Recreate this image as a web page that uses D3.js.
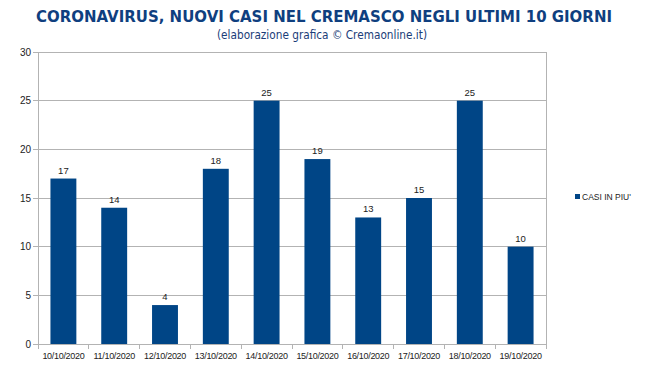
<!DOCTYPE html>
<html><head><meta charset="utf-8">
<script src="https://cdn.jsdelivr.net/npm/d3@7"></script>
<style>body{margin:0;background:#fff}svg{display:block}</style>
</head><body>
<script>
const categories = ["10/10/2020","11/10/2020","12/10/2020","13/10/2020","14/10/2020","15/10/2020","16/10/2020","17/10/2020","18/10/2020","19/10/2020"];
const values = [17,14,4,18,25,19,13,15,25,10];
const yTicks = [0,5,10,15,20,25,30];
const seriesName = "CASI IN PIU'";
const title = "CORONAVIRUS, NUOVI CASI NEL CREMASCO NEGLI ULTIMI 10 GIORNI";
const subtitle = "(elaborazione grafica \u00A9 Cremaonline.it)";

(function(){
const W = 650, H = 370;
const svg = d3.select("body").append("svg").attr("width", W).attr("height", H);
const pl = 38, pr = 546, pt = 52, pb = 344;
const x = d3.scaleBand().domain(categories).range([pl, pr]).paddingInner(0.49).paddingOuter(0.245);
const xb = d3.scaleBand().domain(categories).range([pl, pr]);
const y = d3.scaleLinear().domain([0, 30]).range([pb, pt]);

svg.append("text").attr("x", 36).attr("y", 22)
  .attr("font-family", "DejaVu Sans, sans-serif").attr("font-weight", "bold")
  .attr("font-size", 15.5).attr("textLength", 576).attr("lengthAdjust", "spacingAndGlyphs")
  .attr("fill", "#0f3f7f").text(title);
svg.append("text").attr("x", 217).attr("y", 39)
  .attr("font-family", "DejaVu Sans, sans-serif")
  .attr("font-size", 11.5).attr("textLength", 210).attr("lengthAdjust", "spacingAndGlyphs")
  .attr("fill", "#1a3d78").text(subtitle);

svg.append("g").selectAll("line").data(yTicks).join("line")
  .attr("x1", pl - 5).attr("x2", pr).attr("y1", d => y(d)).attr("y2", d => y(d))
  .attr("stroke", "#b3b3b3").attr("stroke-width", 1).attr("shape-rendering", "crispEdges");
svg.append("line").attr("x1", pr).attr("x2", pr).attr("y1", pt).attr("y2", pb)
  .attr("stroke", "#b3b3b3").attr("shape-rendering", "crispEdges");
svg.append("line").attr("x1", pl).attr("x2", pl).attr("y1", pt).attr("y2", pb + 5)
  .attr("stroke", "#b3b3b3").attr("shape-rendering", "crispEdges");
svg.append("g").selectAll("line").data(categories.slice(1)).join("line")
  .attr("x1", d => xb(d)).attr("x2", d => xb(d)).attr("y1", pb).attr("y2", pb + 5)
  .attr("stroke", "#b3b3b3").attr("shape-rendering", "crispEdges");
svg.append("line").attr("x1", pr).attr("x2", pr).attr("y1", pb).attr("y2", pb + 5)
  .attr("stroke", "#b3b3b3").attr("shape-rendering", "crispEdges");

svg.append("g").selectAll("text").data(yTicks).join("text")
  .attr("x", pl - 7).attr("y", d => y(d) + 3.5).attr("text-anchor", "end")
  .attr("font-family", "Liberation Sans, Arial, sans-serif").attr("font-size", 10).attr("fill", "#222")
  .text(d => d);

svg.append("g").selectAll("rect").data(values).join("rect")
  .attr("x", (d, i) => x(categories[i])).attr("width", x.bandwidth())
  .attr("y", d => y(d)).attr("height", d => pb - y(d)).attr("fill", "#004586");

svg.append("g").selectAll("text").data(values).join("text")
  .attr("x", (d, i) => x(categories[i]) + x.bandwidth() / 2).attr("y", d => y(d) - 5)
  .attr("text-anchor", "middle").attr("font-family", "Liberation Sans, Arial, sans-serif")
  .attr("font-size", 9.5).attr("fill", "#222").text(d => d);

svg.append("g").selectAll("text").data(categories).join("text")
  .attr("x", d => xb(d) + xb.bandwidth() / 2).attr("y", pb + 15)
  .attr("text-anchor", "middle").attr("font-family", "Liberation Sans, Arial, sans-serif")
  .attr("font-size", 9).attr("letter-spacing", -0.3).attr("fill", "#222").text(d => d);

svg.append("rect").attr("x", 575).attr("y", 194).attr("width", 5).attr("height", 5).attr("fill", "#004586");
svg.append("text").attr("x", 582).attr("y", 199.5).attr("font-family", "Liberation Sans, Arial, sans-serif")
  .attr("font-size", 8.5).attr("fill", "#222").text(seriesName);
})();
</script>
</body></html>
